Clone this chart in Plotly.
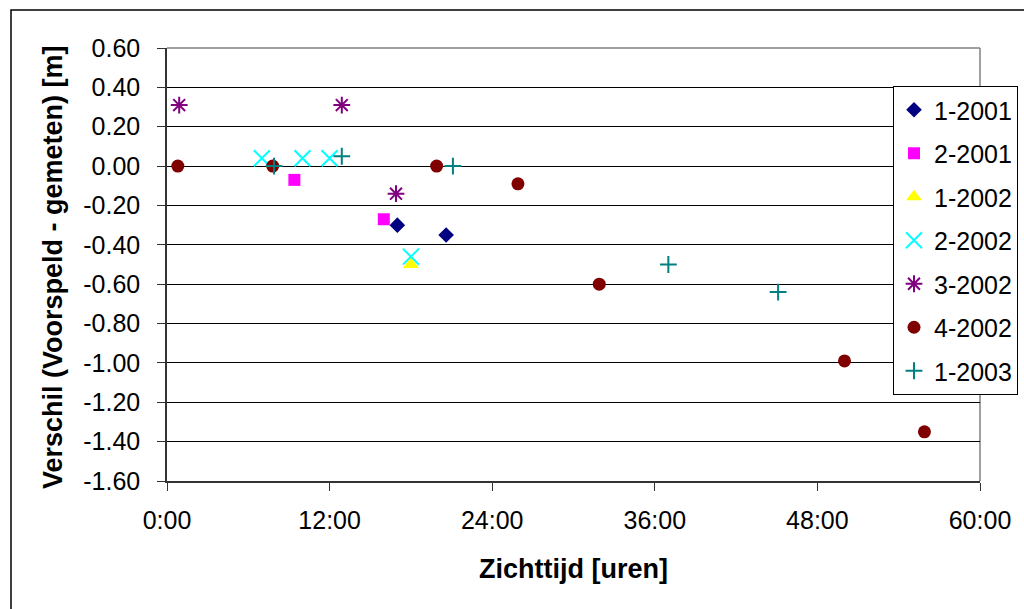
import plotly.graph_objects as go

# ---- data (hours, difference in m) ----
series_names = ["1-2001", "2-2001", "1-2002", "2-2002", "3-2002", "4-2002", "1-2003"]

x_1_2001 = [17.0, 20.6]
y_1_2001 = [-0.30, -0.35]

x_2_2001 = [9.4, 16.0]
y_2_2001 = [-0.07, -0.27]

x_1_2002 = [18.0]
y_1_2002 = [-0.50]

x_2_2002 = [7.0, 10.0, 12.0, 18.0]
y_2_2002 = [0.04, 0.04, 0.04, -0.46]

x_3_2002 = [0.9, 12.9, 16.9]
y_3_2002 = [0.31, 0.31, -0.14]

x_4_2002 = [0.8, 7.8, 19.9, 25.9, 31.9, 50.0, 55.9]
y_4_2002 = [0.0, 0.0, 0.0, -0.09, -0.60, -0.99, -1.35]

x_1_2003 = [7.9, 12.9, 21.1, 37.0, 45.1]
y_1_2003 = [0.0, 0.05, 0.0, -0.50, -0.64]

x_tickvals = [0, 12, 24, 36, 48, 60]
x_ticktext = ["0:00", "12:00", "24:00", "36:00", "48:00", "60:00"]
y_tickvals = [0.6, 0.4, 0.2, 0.0, -0.2, -0.4, -0.6, -0.8, -1.0, -1.2, -1.4, -1.6]
y_ticktext = ["0.60", "0.40", "0.20", "0.00", "-0.20", "-0.40", "-0.60",
              "-0.80", "-1.00", "-1.20", "-1.40", "-1.60"]

FONT = "Liberation Sans, Arial, sans-serif"

styles = [
    dict(symbol="diamond", size=12, color="#000080"),
    dict(symbol="square", size=12, color="#FF00FF"),
    dict(symbol="triangle-up", size=14, color="#FFFF00"),
    dict(symbol="x-thin-open", size=16, color="#00FFFF", line=2),
    dict(symbol="asterisk-open", size=14, color="#800080", line=2),
    dict(symbol="circle", size=13, color="#800000"),
    dict(symbol="cross-thin-open", size=12, color="#008080", line=2),
]
xs = [x_1_2001, x_2_2001, x_1_2002, x_2_2002, x_3_2002, x_4_2002, x_1_2003]
ys = [y_1_2001, y_2_2001, y_1_2002, y_2_2002, y_3_2002, y_4_2002, y_1_2003]

fig = go.Figure()
for name, st, x, y in zip(series_names, styles, xs, ys):
    if "line" in st:
        marker = dict(symbol=st["symbol"], size=st["size"], color=st["color"],
                      line=dict(color=st["color"], width=st["line"]))
    else:
        marker = dict(symbol=st["symbol"], size=st["size"], color=st["color"],
                      line=dict(width=0))
    fig.add_trace(go.Scatter(x=x, y=y, mode="markers", name=name,
                             legendgroup=name, marker=marker))

W, H = 1024, 609
L, R, T, B = 167, 44, 48, 128
pw, ph = W - L - R, H - T - B

def px_x(p):
    return (p - L) / pw

def px_y(p):
    return (H - B - p) / ph

fig.update_layout(
    width=W, height=H,
    margin=dict(l=L, r=R, t=T, b=B, pad=0, autoexpand=False),
    paper_bgcolor="white", plot_bgcolor="white",
    font=dict(family=FONT, size=25, color="black"),
    showlegend=True,
    legend=dict(
        x=px_x(893), y=px_y(86), xanchor="left", yanchor="top",
        bgcolor="white", bordercolor="black", borderwidth=1,
        font=dict(family=FONT, size=25, color="black"),
        tracegroupgap=8, traceorder="grouped",
    ),
    xaxis=dict(
        range=[0, 60], tickvals=x_tickvals, ticktext=x_ticktext,
        showgrid=False, zeroline=False,
        showline=True, linecolor="#333333", linewidth=1.5,
        ticks="outside", ticklen=8, tickcolor="#333333", tickwidth=1,
        ticklabelstandoff=8,
        tickfont=dict(family=FONT, size=25, color="black"),
    ),
    yaxis=dict(
        range=[-1.6, 0.6], tickvals=y_tickvals, ticktext=y_ticktext,
        showgrid=True, gridcolor="#000000", gridwidth=1.2,
        zeroline=False,
        showline=True, linecolor="#333333", linewidth=1.5,
        ticks="outside", ticklen=8, tickcolor="#333333", tickwidth=1,
        ticklabelstandoff=12,
        tickfont=dict(family=FONT, size=25, color="black"),
    ),
    annotations=[
        dict(text="<b>Zichttijd [uren]</b>", xref="paper", yref="paper",
             x=px_x(573), y=px_y(569), xanchor="center", yanchor="middle",
             showarrow=False, font=dict(family=FONT, size=27, color="black")),
        dict(text="<b>Verschil (Voorspeld - gemeten) [m]</b>", xref="paper", yref="paper",
             x=px_x(53), y=px_y(267), xanchor="center", yanchor="middle",
             textangle=-90, showarrow=False,
             font=dict(family=FONT, size=27, color="black")),
    ],
    shapes=[
        # outer chart border (extends past right/bottom edges)
        dict(type="rect", xref="paper", yref="paper",
             x0=px_x(11), x1=px_x(1040), y0=px_y(625), y1=px_y(10),
             line=dict(color="black", width=1.5), fillcolor="rgba(0,0,0,0)", layer="below"),
        # plot-area top and right border (gray)
        dict(type="line", xref="paper", yref="paper", x0=0, x1=1, y0=1, y1=1,
             line=dict(color="#808080", width=1.5), layer="below"),
        dict(type="line", xref="paper", yref="paper", x0=1, x1=1, y0=0, y1=1,
             line=dict(color="#808080", width=1.5), layer="below"),
    ],
)

fig.write_html("out.html")
